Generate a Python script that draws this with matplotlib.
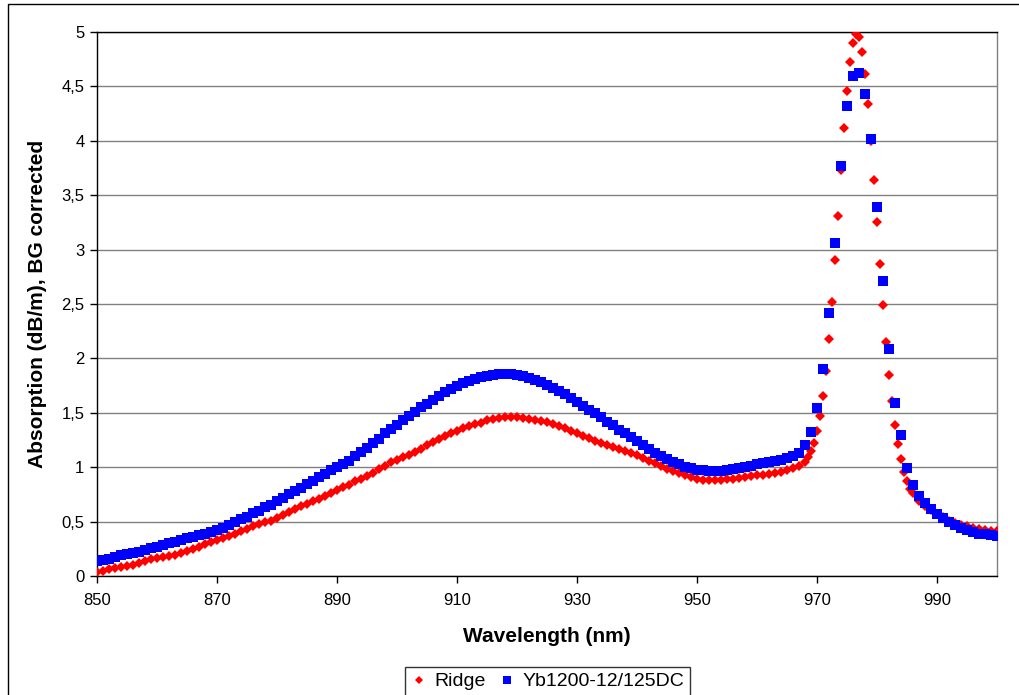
import matplotlib
matplotlib.use("Agg")
import matplotlib.pyplot as plt
from matplotlib.patches import Rectangle
from matplotlib.ticker import FuncFormatter

plt.rcParams['font.family'] = ['Liberation Sans', 'DejaVu Sans']

# ---- data ----
ridge_x = (list(range(850, 969))
           + [968.5 + 0.5 * k for k in range(35)]
           + list(range(986, 1001)))
ridge_y = [
    0.04, 0.05, 0.06, 0.07, 0.08, 0.09, 0.10, 0.115, 0.135, 0.155,
    0.165, 0.175, 0.185, 0.195, 0.21, 0.23, 0.25, 0.27, 0.29, 0.31,
    0.33, 0.35, 0.37, 0.39, 0.41, 0.43, 0.455, 0.475, 0.495, 0.51,
    0.53, 0.56, 0.59, 0.62, 0.645, 0.665, 0.685, 0.71, 0.735, 0.765,
    0.79, 0.815, 0.84, 0.87, 0.895, 0.92, 0.95, 0.98, 1.01, 1.045,
    1.07, 1.09, 1.11, 1.14, 1.17, 1.20, 1.23, 1.26, 1.285, 1.31,
    1.335, 1.36, 1.38, 1.395, 1.41, 1.43, 1.445, 1.455, 1.46, 1.46,
    1.458, 1.452, 1.445, 1.435, 1.425, 1.415, 1.40, 1.38, 1.36, 1.335,
    1.31, 1.29, 1.27, 1.245, 1.225, 1.205, 1.19, 1.17, 1.15, 1.13,
    1.11, 1.085, 1.06, 1.035, 1.01, 0.985, 0.965, 0.945, 0.925, 0.91,
    0.895, 0.885, 0.88, 0.88, 0.885, 0.89, 0.895, 0.90, 0.91, 0.915,
    0.925, 0.93, 0.94, 0.95, 0.96, 0.975, 0.99, 1.01, 1.05,
    # 968.5 ... 985.5 (0.5 nm steps)
    1.096, 1.145, 1.224, 1.329, 1.473, 1.657, 1.886, 2.182, 2.520, 2.904,
    3.310, 3.730, 4.117, 4.459, 4.728, 4.902, 4.984, 4.954, 4.820, 4.616,
    4.341, 4.0, 3.642, 3.251, 2.867, 2.490, 2.152, 1.850, 1.604, 1.385,
    1.21, 1.072, 0.96, 0.876, 0.80,
    # 986 ... 1000
    0.76, 0.69, 0.645, 0.605, 0.57, 0.54, 0.51, 0.49, 0.47, 0.455,
    0.445, 0.435, 0.425, 0.415, 0.41,
]

yb_x = list(range(850, 1001))
yb_y = [
    0.14, 0.15, 0.16, 0.175, 0.19, 0.20, 0.21, 0.225, 0.24, 0.255,
    0.27, 0.285, 0.30, 0.315, 0.33, 0.345, 0.36, 0.375, 0.39, 0.405,
    0.42, 0.445, 0.47, 0.495, 0.52, 0.545, 0.575, 0.60, 0.63, 0.655,
    0.685, 0.715, 0.75, 0.78, 0.81, 0.845, 0.875, 0.91, 0.94, 0.97,
    1.00, 1.03, 1.06, 1.10, 1.14, 1.18, 1.22, 1.26, 1.31, 1.35,
    1.39, 1.43, 1.47, 1.51, 1.55, 1.585, 1.62, 1.655, 1.69, 1.72,
    1.745, 1.77, 1.795, 1.815, 1.83, 1.84, 1.85, 1.855, 1.857, 1.853,
    1.845, 1.835, 1.82, 1.805, 1.78, 1.755, 1.73, 1.70, 1.67, 1.635,
    1.60, 1.565, 1.53, 1.495, 1.46, 1.42, 1.385, 1.345, 1.31, 1.275,
    1.24, 1.20, 1.165, 1.135, 1.105, 1.075, 1.05, 1.025, 1.005, 0.99,
    0.975, 0.97, 0.965, 0.965, 0.968, 0.975, 0.985, 0.995, 1.005, 1.015,
    1.025, 1.035, 1.045, 1.055, 1.065, 1.08, 1.10, 1.135, 1.20, 1.325,
    1.545, 1.90, 2.415, 3.064, 3.77, 4.324, 4.60, 4.626, 4.432, 4.012,
    3.396, 2.713, 2.083, 1.588, 1.30, 0.99, 0.837, 0.735, 0.668, 0.613,
    0.567, 0.530, 0.500, 0.469, 0.444, 0.423, 0.405, 0.390, 0.383, 0.374,
    0.368,
]

series_names = ["Ridge", "Yb1200-12/125DC"]
x_ticks = list(range(850, 1000, 20))
y_ticks = [0, 0.5, 1, 1.5, 2, 2.5, 3, 3.5, 4, 4.5, 5]

assert len(ridge_x) == len(ridge_y)
assert len(yb_x) == len(yb_y)

# ---- figure ----
W, H = 1020, 695
fig = plt.figure(figsize=(W / 100, H / 100), dpi=100)
fig.patch.set_facecolor('white')

# outer chart border
fig.patches.append(Rectangle((8 / W, -0.1), 1.2, 1.1 - 4 / H,
                             transform=fig.transFigure, fill=False,
                             edgecolor='black', linewidth=1.0))

L, R, T, B = 97, 997, 32, 576
ax = fig.add_axes([L / W, 1 - B / H, (R - L) / W, (B - T) / H])

ax.plot(ridge_x, ridge_y, linestyle='none', marker='D', markersize=4.8,
        markerfacecolor='#ff0000', markeredgewidth=0, color='#ff0000',
        label=series_names[0], zorder=3)
ax.plot(yb_x, yb_y, linestyle='none', marker='s', markersize=6.5,
        markerfacecolor='#0000ff', markeredgewidth=0, color='#0000ff',
        label=series_names[1], zorder=4)

ax.set_xlim(850, 1000)
ax.set_ylim(0, 5)
ax.set_xticks(x_ticks)
ax.set_yticks(y_ticks)
ax.yaxis.set_major_formatter(FuncFormatter(lambda v, p: ('%g' % v).replace('.', ',')))
ax.grid(axis='y', color='#808080', linewidth=1.0, zorder=1)
ax.set_axisbelow(True)

for s in ['left', 'bottom', 'top']:
    ax.spines[s].set_color('black')
    ax.spines[s].set_linewidth(1.0)
ax.spines['right'].set_color('#808080')
ax.spines['right'].set_linewidth(1.0)

ax.tick_params(axis='both', direction='out', length=5, width=1.0,
               labelsize=12, color='black', labelcolor='black')
ax.tick_params(axis='x', pad=7)
ax.tick_params(axis='y', pad=4)

ax.set_xlabel('Wavelength (nm)', fontsize=15, fontweight='bold')
ax.xaxis.set_label_coords(0.5, -0.093)
ax.set_ylabel('Absorption (dB/m), BG corrected', fontsize=15, fontweight='bold')
ax.yaxis.set_label_coords(-0.055, 0.5)

leg = fig.legend(loc='upper center', bbox_to_anchor=(547.5 / W, 1 - 667 / H),
                 bbox_transform=fig.transFigure, ncol=2, fontsize=14,
                 frameon=True, fancybox=False, borderaxespad=0,
                 handlelength=0.8, handletextpad=0.4, columnspacing=0.7,
                 borderpad=0.3, markerscale=0.85)
leg.get_frame().set_edgecolor('black')
leg.get_frame().set_linewidth(1.0)

fig.savefig('out.png', dpi=100)
